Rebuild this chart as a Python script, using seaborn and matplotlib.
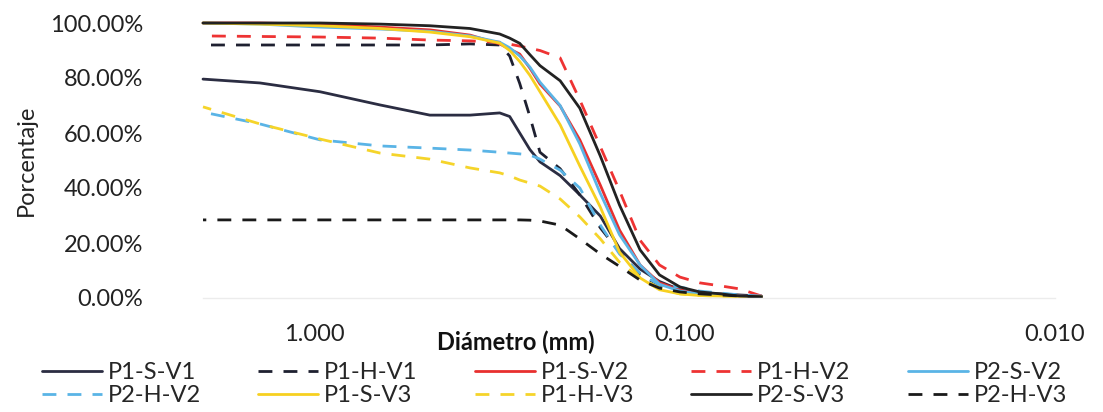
import pandas as pd
import matplotlib
matplotlib.use("Agg")
import matplotlib.pyplot as plt
from matplotlib.ticker import FuncFormatter
import seaborn as sns

# diametro de particula (mm) y porcentaje que pasa
diametro = [2.000, 1.404, 0.966, 0.665, 0.488, 0.380, 0.316, 0.297, 0.279, 0.262, 0.246,
            0.217, 0.192, 0.169, 0.150, 0.132, 0.117, 0.103, 0.091, 0.080, 0.071, 0.062]

p1_s_v1 = [79.6, 78.2, 75.0, 70.2, 66.5, 66.5, 67.3, 66.0, 60.0, 54.0, 49.5,
           44.5, 37.5, 29.8, 18.0, 10.5, 6.0, 3.0, 1.8, 1.5, 1.1, 0.7]
p1_h_v1 = [92.0, 92.0, 92.0, 92.0, 92.0, 92.4, 92.0, 88.0, 78.0, 66.0, 53.0,
           47.0, 37.5, 25.5, 16.7, 8.4, 4.7, 2.5, 1.8, 1.1, 0.7, 0.4]
p1_s_v2 = [100.0, 100.0, 99.6, 98.5, 97.5, 95.6, 92.4, 90.5, 88.7, 83.6, 77.8,
           69.8, 57.5, 41.0, 24.7, 12.0, 5.5, 2.9, 1.8, 1.1, 0.7, 0.4]
p1_h_v2 = [95.3, 95.1, 94.9, 94.5, 93.8, 93.5, 93.0, 92.3, 91.6, 90.8, 90.0,
           87.3, 72.0, 55.0, 39.0, 21.0, 12.0, 7.6, 5.5, 4.4, 3.3, 0.7]
p2_s_v2 = [100.0, 99.6, 98.5, 97.8, 97.0, 95.3, 93.0, 91.0, 88.0, 84.0, 78.5,
           70.0, 56.0, 38.0, 23.0, 12.0, 5.0, 2.5, 1.5, 1.1, 0.7, 0.4]
p2_h_v2 = [67.6, 63.3, 57.5, 55.3, 54.5, 53.8, 53.0, 52.7, 52.4, 52.0, 50.5,
           46.5, 40.0, 26.5, 16.0, 9.0, 4.7, 4.0, 2.5, 1.8, 1.1, 0.7]
p1_s_v3 = [100.0, 99.6, 99.0, 98.0, 96.7, 95.0, 92.7, 90.0, 86.0, 81.0, 75.0,
           63.0, 48.0, 33.0, 16.7, 7.3, 3.0, 1.5, 0.9, 0.7, 0.5, 0.4]
p1_h_v3 = [69.5, 63.3, 57.8, 52.7, 50.5, 47.3, 45.5, 44.4, 42.9, 41.8, 40.7,
           36.0, 29.5, 21.5, 13.0, 7.3, 3.6, 1.5, 0.9, 0.7, 0.5, 0.4]
p2_s_v3 = [100.0, 100.0, 100.0, 99.6, 99.0, 98.0, 96.0, 94.5, 92.6, 88.5, 84.5,
           79.0, 69.0, 51.6, 33.8, 17.5, 8.4, 4.0, 2.2, 1.5, 0.7, 0.4]
p2_h_v3 = [28.4, 28.4, 28.4, 28.4, 28.4, 28.4, 28.4, 28.4, 28.4, 28.3, 28.0,
           26.5, 21.5, 16.0, 11.5, 6.5, 3.6, 2.2, 1.5, 1.1, 0.7, 0.4]

series = {
    "P1-S-V1": (p1_s_v1, "#2b2d42", "-"),
    "P1-H-V1": (p1_h_v1, "#1e2030", "--"),
    "P1-S-V2": (p1_s_v2, "#e8302f", "-"),
    "P1-H-V2": (p1_h_v2, "#ee3333", "--"),
    "P2-S-V2": (p2_s_v2, "#5ab4e6", "-"),
    "P2-H-V2": (p2_h_v2, "#5ab4e6", "--"),
    "P1-S-V3": (p1_s_v3, "#f7d020", "-"),
    "P1-H-V3": (p1_h_v3, "#f5d42a", "--"),
    "P2-S-V3": (p2_s_v3, "#222222", "-"),
    "P2-H-V3": (p2_h_v3, "#1a1a1a", "--"),
}

sns.set_style("white")
plt.rcParams["font.family"] = ["Lato", "DejaVu Sans"]
fs = 17

fig = plt.figure(figsize=(11.03, 4.12), dpi=100)
ax = fig.add_axes([203 / 1103, 1 - 298 / 412, 852 / 1103, 275 / 412])

for name, (vals, col, ls) in series.items():
    df = pd.DataFrame({"d": diametro, "p": vals})
    line_style = (0, (5, 4)) if ls == "--" else "-"
    sns.lineplot(data=df, x="d", y="p", ax=ax, color=col, linestyle=line_style,
                 linewidth=2.0, label=name, clip_on=False, legend=False)

ax.set_xscale("log")
ax.set_xlim(2.0, 0.01)
ax.set_ylim(0, 100)
ax.set_xticks([1.0, 0.1, 0.01])
ax.set_xticklabels(["1.000", "0.100", "0.010"])
ax.minorticks_off()
ax.set_yticks([0, 20, 40, 60, 80, 100])
ax.yaxis.set_major_formatter(FuncFormatter(lambda v, p: f"{v:.2f}%"))
ax.tick_params(axis="x", length=0, pad=19, labelsize=fs, labelcolor="#222222")
ax.tick_params(axis="y", length=0, pad=43, labelsize=fs, labelcolor="#222222")

for s in ["top", "right", "left"]:
    ax.spines[s].set_visible(False)
ax.spines["bottom"].set_color("#ececec")
ax.spines["bottom"].set_linewidth(1.0)

ax.set_ylabel("Porcentaje", fontsize=fs, color="#222222")
ax.yaxis.set_label_coords(-0.195, 0.5)
ax.set_xlabel("Diámetro (mm)", fontsize=fs, fontweight="bold", color="#111111")
ax.xaxis.set_label_coords((516 - 203) / 852, (298 - 331) / 275)

# legend: two rows of five, filled column-wise
handles, labels = ax.get_legend_handles_labels()
order = [0, 5, 1, 6, 2, 7, 3, 8, 4, 9]
fig.legend([handles[i] for i in order], [labels[i] for i in order],
           loc="upper left", bbox_to_anchor=(42 / 1103, 1 - 366 / 412, 1025 / 1103, 0.01),
           mode="expand", ncol=5, frameon=False, fontsize=fs,
           handlelength=2.55, handletextpad=0.25, labelspacing=0.1,
           borderaxespad=0, borderpad=0)

fig.savefig("out.png", dpi=100)
